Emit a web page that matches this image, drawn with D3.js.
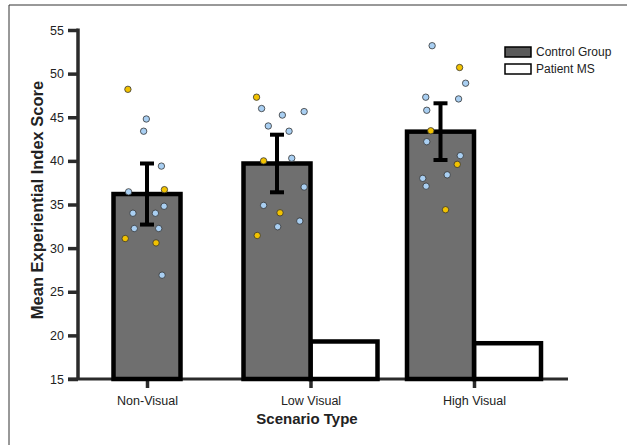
<!DOCTYPE html>
<html>
<head>
<meta charset="utf-8">
<script src="https://cdn.jsdelivr.net/npm/d3@7"></script>
<style>
  body { margin: 0; background: #fff; }
  svg { font-family: "Liberation Sans", Arial, sans-serif; }
</style>
</head>
<body>
<svg id="chart" width="627" height="445"></svg>
<script>
// data
const scenarios = ["Non-Visual", "Low Visual", "High Visual"];
const controlMean = [36.2, 39.7, 43.35];
const controlErr = [3.5, 3.3, 3.25];
const patientMS = [null, 19.3, 19.1];
const yTicks = [15, 20, 25, 30, 35, 40, 45, 50, 55];

// individual control participants: [value, jitter (-1..1 of half bar), colour group]
const nonVisualPts = [
  [48.2, -0.57, "y"], [44.8, -0.02, "b"], [43.4, -0.10, "b"], [39.4, 0.43, "b"],
  [36.45, -0.55, "b"], [36.7, 0.52, "y"], [34.8, 0.51, "b"], [34.0, -0.42, "b"],
  [34.0, 0.25, "b"], [32.25, -0.38, "b"], [32.25, 0.35, "b"], [31.1, -0.65, "y"],
  [30.6, 0.27, "y"], [26.9, 0.45, "b"]
];
const lowVisualPts = [
  [47.3, -0.61, "y"], [46.0, -0.46, "b"], [45.25, 0.16, "b"], [45.65, 0.81, "b"],
  [44.0, -0.26, "b"], [43.4, 0.36, "b"], [40.0, -0.40, "y"], [40.3, 0.44, "b"],
  [37.0, 0.81, "b"], [34.9, -0.40, "b"], [34.05, 0.09, "y"], [33.1, 0.68, "b"],
  [32.45, 0.02, "b"], [31.45, -0.59, "y"]
];
const highVisualPts = [
  [53.2, -0.25, "b"], [50.7, 0.57, "y"], [48.9, 0.75, "b"], [47.3, -0.44, "b"],
  [47.1, 0.54, "b"], [45.8, -0.41, "b"], [43.45, -0.29, "y"], [42.2, -0.41, "b"],
  [40.6, 0.59, "b"], [39.6, 0.50, "y"], [38.4, 0.20, "b"], [38.0, -0.53, "b"],
  [37.1, -0.43, "b"], [34.4, 0.15, "y"]
];
const points = [nonVisualPts, lowVisualPts, highVisualPts];

const legendLabels = ["Control Group", "Patient MS"];

const svg = d3.select("#chart");

// partial frame round the figure
svg.append("line").attr("x1", 9).attr("y1", 5).attr("x2", 627).attr("y2", 5)
  .attr("stroke", "#333").attr("stroke-width", 1);
svg.append("line").attr("x1", 9).attr("y1", 5).attr("x2", 9).attr("y2", 445)
  .attr("stroke", "#333").attr("stroke-width", 1);

const axisX = 78, baseY = 379;
const y = d3.scaleLinear().domain([15, 55]).range([baseY, 30]);
const x = d3.scalePoint().domain(scenarios).range([147, 474]);
const barW = 67;

const axisColor = "#2b2b2b";

// y axis
const yAxis = svg.append("g").attr("transform", `translate(${axisX},0)`)
  .call(d3.axisLeft(y).tickValues(yTicks).tickSize(10).tickPadding(4));
yAxis.select(".domain").attr("stroke", axisColor).attr("stroke-width", 3.5)
  .attr("d", `M0,${y(55) - 1.5}V${baseY}`);
yAxis.selectAll(".tick line").attr("stroke", axisColor).attr("stroke-width", 3.5);
yAxis.selectAll(".tick text").attr("font-size", 12.5).attr("fill", "#222")
  .attr("font-family", "Liberation Sans, Arial, sans-serif");

// x axis
const xAxis = svg.append("g").attr("transform", `translate(0,${baseY})`)
  .call(d3.axisBottom(x).tickSize(9).tickPadding(8));
xAxis.select(".domain").attr("stroke", axisColor).attr("stroke-width", 3)
  .attr("d", `M${axisX - 10},0H568`);
xAxis.selectAll(".tick line").attr("stroke", axisColor).attr("stroke-width", 3.5);
xAxis.selectAll(".tick text").attr("font-size", 12.5).attr("fill", "#222")
  .attr("font-family", "Liberation Sans, Arial, sans-serif");

// bar positions: control left of the tick, patient right; control centred when no patient value
function controlX(i) {
  return patientMS[i] == null ? x(scenarios[i]) - barW / 2 : x(scenarios[i]) - barW;
}

const g = svg.append("g");

g.selectAll("rect.patient")
  .data(scenarios.map((s, i) => ({ s, v: patientMS[i] })).filter(d => d.v != null))
  .join("rect")
  .attr("class", "patient")
  .attr("x", d => x(d.s))
  .attr("y", d => y(d.v))
  .attr("width", barW)
  .attr("height", d => y(15) - y(d.v))
  .attr("fill", "#fff")
  .attr("stroke", "#000")
  .attr("stroke-width", 4.5);

g.selectAll("rect.control")
  .data(scenarios.map((s, i) => ({ s, i, v: controlMean[i] })))
  .join("rect")
  .attr("class", "control")
  .attr("x", d => controlX(d.i))
  .attr("y", d => y(d.v))
  .attr("width", barW)
  .attr("height", d => y(15) - y(d.v))
  .attr("fill", "#6f6f6f")
  .attr("stroke", "#000")
  .attr("stroke-width", 4.5);

// error bars
const errData = scenarios.map((s, i) => ({
  cx: controlX(i) + barW / 2,
  lo: controlMean[i] - controlErr[i],
  hi: controlMean[i] + controlErr[i]
}));
const eb = g.selectAll("g.err").data(errData).join("g").attr("class", "err");
eb.append("line").attr("x1", d => d.cx).attr("x2", d => d.cx)
  .attr("y1", d => y(d.lo)).attr("y2", d => y(d.hi))
  .attr("stroke", "#000").attr("stroke-width", 4);
eb.append("line").attr("x1", d => d.cx - 7).attr("x2", d => d.cx + 7)
  .attr("y1", d => y(d.hi)).attr("y2", d => y(d.hi))
  .attr("stroke", "#000").attr("stroke-width", 4);
eb.append("line").attr("x1", d => d.cx - 7).attr("x2", d => d.cx + 7)
  .attr("y1", d => y(d.lo)).attr("y2", d => y(d.lo))
  .attr("stroke", "#000").attr("stroke-width", 4);

// participant dots
const dotColor = { b: "#a9cff2", y: "#f2c200" };
const dots = [];
points.forEach((pts, i) => {
  const cx = controlX(i) + barW / 2;
  pts.forEach(p => dots.push({ cx: cx + p[1] * barW / 2, v: p[0], c: p[2] }));
});
g.selectAll("circle.dot")
  .data(dots)
  .join("circle")
  .attr("class", "dot")
  .attr("cx", d => d.cx)
  .attr("cy", d => y(d.v))
  .attr("r", 3.2)
  .attr("fill", d => dotColor[d.c])
  .attr("stroke", "#333")
  .attr("stroke-width", 0.8);

// axis titles
svg.append("text")
  .attr("transform", `translate(43,200) rotate(-90)`)
  .attr("text-anchor", "middle")
  .attr("font-size", 16.5).attr("font-weight", "bold").attr("fill", "#222")
  .text("Mean Experiential Index Score");
svg.append("text")
  .attr("x", 307).attr("y", 424)
  .attr("text-anchor", "middle")
  .attr("font-size", 15).attr("font-weight", "bold").attr("fill", "#222")
  .text("Scenario Type");

// legend
const legend = svg.append("g").attr("transform", "translate(505,47)");
const lg = legend.selectAll("g").data(legendLabels).join("g")
  .attr("transform", (d, i) => `translate(0,${i * 17})`);
lg.append("rect").attr("width", 26).attr("height", 10)
  .attr("fill", (d, i) => i === 0 ? "#5a5a5a" : "#fff")
  .attr("stroke", "#000").attr("stroke-width", 1.5);
lg.append("text").attr("x", 31).attr("y", 5).attr("dy", "0.35em")
  .attr("font-size", 12).attr("fill", "#222")
  .text(d => d);
</script>
</body>
</html>
